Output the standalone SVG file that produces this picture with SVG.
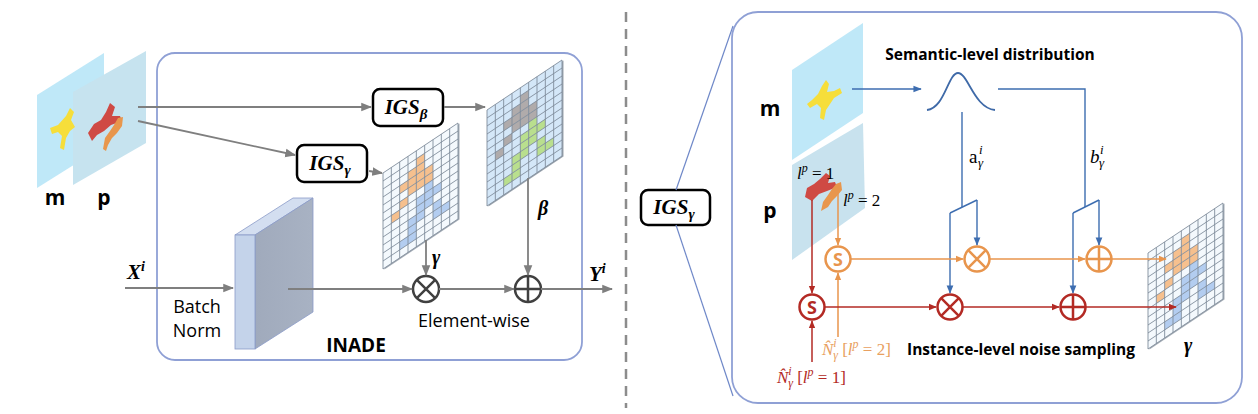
<svg xmlns="http://www.w3.org/2000/svg" xmlns:xlink="http://www.w3.org/1999/xlink" width="1258" height="414" viewBox="0 0 1258 414">
<style>
.sans{font-family:"Open Sans","Noto Sans","Liberation Sans",sans-serif;fill:#000}
.bold{font-weight:bold}
.math{font-family:"Liberation Serif","DejaVu Serif",serif;font-style:italic}
.igs{font-family:"Liberation Serif","DejaVu Serif",serif;font-style:italic;font-weight:bold;font-size:21px;text-anchor:middle}
.box{fill:#fff;stroke:#000;stroke-width:2.5}
.panel{fill:none;stroke:#8fa0d5;stroke-width:1.8}
.gray{stroke:#7f7f7f;stroke-width:1.8;fill:none}
.blue{stroke:#3d6db0;stroke-width:1.4;fill:none}
.org{stroke:#e8954d;stroke-width:1.5;fill:none}
.red{stroke:#b32a24;stroke-width:1.5;fill:none}
.op{fill:#fff;stroke:#404040;stroke-width:2.5}
.gl{fill:none;stroke:#7d8a99;stroke-width:0.75}
.ca{fill:#f6c08e}
.cb{fill:#b3cdf0}
.cg{fill:#b0abab}
.cn{fill:#b9df8e}
</style>
<defs>
<marker id="ag" viewBox="0 0 10 10" refX="9" refY="5" markerWidth="6" markerHeight="6" orient="auto"><path d="M0,1 L10,5 L0,9 Z" fill="#7f7f7f"/></marker>
<marker id="ab" viewBox="0 0 10 10" refX="9" refY="5" markerWidth="6" markerHeight="6" orient="auto"><path d="M0,1 L10,5 L0,9 Z" fill="#3d6db0"/></marker>
<marker id="ao" viewBox="0 0 10 10" refX="9" refY="5" markerWidth="5.5" markerHeight="5.5" orient="auto"><path d="M0,1 L10,5 L0,9 Z" fill="#e8954d"/></marker>
<marker id="ar" viewBox="0 0 10 10" refX="9" refY="5" markerWidth="5.5" markerHeight="5.5" orient="auto"><path d="M0,1 L10,5 L0,9 Z" fill="#b32a24"/></marker>
<linearGradient id="side" x1="0" y1="0" x2="1" y2="0"><stop offset="0" stop-color="#a0aabc"/><stop offset="1" stop-color="#a8b2c3"/></linearGradient>
<path id="glines" class="gl" d="M0,0V96M8.33,0V96M16.67,0V96M25,0V96M33.33,0V96M41.67,0V96M50,0V96M58.33,0V96M66.67,0V96M75,0V96M0,0H75M0,8H75M0,16H75M0,24H75M0,32H75M0,40H75M0,48H75M0,56H75M0,64H75M0,72H75M0,80H75M0,88H75M0,96H75"/>
<g id="patA">
<rect x="33.33" y="8" width="8.33" height="8"/><rect x="33.33" y="16" width="8.33" height="8"/><rect x="25" y="16" width="8.33" height="8"/>
<rect x="16.67" y="24" width="8.33" height="8"/><rect x="25" y="24" width="8.33" height="8"/><rect x="33.33" y="24" width="8.33" height="8"/><rect x="41.67" y="24" width="8.33" height="8"/>
<rect x="25" y="32" width="8.33" height="8"/><rect x="33.33" y="32" width="8.33" height="8"/><rect x="41.67" y="32" width="8.33" height="8"/>
<rect x="16.67" y="40" width="8.33" height="8"/><rect x="8.33" y="48" width="8.33" height="8"/>
</g>
<g id="patB">
<rect x="41.67" y="40" width="8.33" height="8"/>
<rect x="33.33" y="48" width="8.33" height="8"/><rect x="41.67" y="48" width="8.33" height="8"/><rect x="50" y="48" width="8.33" height="8"/>
<rect x="33.33" y="56" width="8.33" height="8"/><rect x="41.67" y="56" width="8.33" height="8"/>
<rect x="25" y="64" width="8.33" height="8"/><rect x="33.33" y="64" width="8.33" height="8"/><rect x="50" y="64" width="8.33" height="8"/>
<rect x="25" y="72" width="8.33" height="8"/><rect x="50" y="72" width="8.33" height="8"/><rect x="58.33" y="72" width="8.33" height="8"/>
<rect x="16.67" y="80" width="8.33" height="8"/><rect x="25" y="80" width="8.33" height="8"/>
</g>
</defs>
<rect width="1258" height="414" fill="#fff"/>

<!-- divider -->
<line x1="626" y1="12" x2="626" y2="408" stroke="#8c8c8c" stroke-width="2.5" stroke-dasharray="10,7"/>

<!-- LEFT PANEL -->
<g id="inade-panel">
<rect class="panel" x="157" y="53" width="425" height="307" rx="18"/>
<text class="sans bold" x="356" y="352" font-size="19" text-anchor="middle">INADE</text>
</g>

<g id="maps-left">
<path d="M37,95 L104,53 L104,146 L37,188 Z" fill="#bfe8f8"/>
<path d="M73,92 L146,51 L146,143 L73,185 Z" fill="#c6e3ef"/>
<path d="M58,125 L66,116 L70,108 L74,112 L71,120 L75,127 L70,131 L66,138 L64,150 L60,148 L62,136 L58,132 L52,134 L50,128 Z" fill="#f6de3a"/>
<path d="M88,133 L94,124 L101,120 L106,112 L110,103 L115,107 L112,116 L120,116 L122,121 L111,125 L104,131 L97,135 L92,141 Z" fill="#cf4a44"/>
<path d="M103,149 L105,138 L110,131 L114,125 L118,118 L123,117 L122,126 L117,133 L112,138 L108,145 L106,151 Z" fill="#e8964c"/>
<text class="sans bold" x="55" y="205" font-size="21" text-anchor="middle">m</text>
<text class="sans bold" x="104" y="205" font-size="21" text-anchor="middle">p</text>
</g>

<g id="igs-beta">
<rect class="box" x="373" y="89" width="70" height="37" rx="7"/>
<text class="igs" x="406" y="114">IGS<tspan font-size="15" dy="5">β</tspan></text>
</g>
<g id="igs-gamma">
<rect class="box" x="297" y="145" width="70" height="37" rx="7"/>
<text class="igs" x="330" y="170">IGS<tspan font-size="15" dy="5">γ</tspan></text>
</g>

<g id="beta-map">
<g transform="translate(487,110) skewY(-33.69)">
<rect x="1.5" y="1.5" width="75" height="96" fill="#9aa3ad"/>
<rect x="0" y="0" width="75" height="96" fill="#d4e7f8"/>
<use xlink:href="#patA" class="cg"/>
<use xlink:href="#patB" class="cn"/>
<use xlink:href="#glines"/>
</g>
<text class="math bold" x="538" y="215" font-size="20">β</text>
</g>

<g id="gamma-map">
<g transform="translate(383,173) skewY(-33.69)">
<rect x="1.5" y="1.5" width="75" height="96" fill="#a4acb5"/>
<rect x="0" y="0" width="75" height="96" fill="#f4f9fd"/>
<use xlink:href="#patA" class="ca"/>
<use xlink:href="#patB" class="cb"/>
<use xlink:href="#glines"/>
</g>
<text class="math bold" x="432" y="264" font-size="20">γ</text>
</g>

<g id="batch-norm">
<path d="M235,235 L255,235 L313,198 L293,198 Z" fill="#d3def0" stroke="#8a9bc8" stroke-width="0.8"/>
<path d="M255,235 L313,198 L313,312 L255,349 Z" fill="url(#side)" stroke="#8a9bc8" stroke-width="0.8"/>
<rect x="235" y="235" width="20" height="114" fill="#c4d3ea" stroke="#8a9bc8" stroke-width="0.8"/>
<text class="sans" x="197" y="313" font-size="18" text-anchor="middle">Batch</text>
<text class="sans" x="197" y="337" font-size="18" text-anchor="middle">Norm</text>
</g>

<g id="mult-left">
<circle class="op" cx="426" cy="289" r="13"/>
<path d="M416.8,279.8 L435.2,298.2 M435.2,279.8 L416.8,298.2" stroke="#404040" stroke-width="2.5"/>
</g>
<g id="add-left">
<circle class="op" cx="528" cy="289" r="13"/>
<path d="M515,289 H541 M528,276 V302" stroke="#404040" stroke-width="2.5"/>
<text class="sans" x="474" y="327" font-size="18" text-anchor="middle">Element-wise</text>
</g>

<g id="labels-left">
<text class="math bold" x="127" y="279" font-size="21">X<tspan font-size="14" dy="-8">i</tspan></text>
<text class="math bold" x="589" y="281" font-size="21">Y<tspan font-size="14" dy="-8">i</tspan></text>
</g>

<g id="connectors-left">
<line class="gray" x1="138" y1="107" x2="371" y2="107" marker-end="url(#ag)"/>
<line class="gray" x1="138" y1="121" x2="295" y2="155" marker-end="url(#ag)"/>
<line class="gray" x1="444" y1="107" x2="485" y2="107" marker-end="url(#ag)"/>
<line class="gray" x1="369" y1="171" x2="382" y2="173" marker-end="url(#ag)"/>
<line class="gray" x1="125" y1="288" x2="233" y2="288" marker-end="url(#ag)"/>
<line class="gray" x1="288" y1="289" x2="412" y2="289" marker-end="url(#ag)"/>
<line class="gray" x1="439" y1="289" x2="514" y2="289" marker-end="url(#ag)"/>
<line class="gray" x1="541" y1="289" x2="612" y2="289" marker-end="url(#ag)"/>
<line class="gray" x1="426" y1="240" x2="426" y2="275" marker-end="url(#ag)"/>
<line class="gray" x1="528" y1="178" x2="528" y2="275" marker-end="url(#ag)"/>
</g>

<!-- RIGHT PANEL -->
<g id="igs-gamma-right">
<rect class="box" x="641" y="190" width="69" height="35" rx="7"/>
<text class="igs" x="674" y="214">IGS<tspan font-size="15" dy="5">γ</tspan></text>
</g>
<g id="zoom-lines">
<line x1="676" y1="190" x2="733" y2="26" stroke="#6f88c8" stroke-width="1.2"/>
<line x1="676" y1="225" x2="733" y2="396" stroke="#6f88c8" stroke-width="1.2"/>
</g>
<g id="detail-panel">
<rect class="panel" x="732" y="12" width="510" height="391" rx="26"/>
</g>

<g id="maps-right">
<path d="M792,70 L863,23 L863,113 L792,160 Z" fill="#bfe8f8"/>
<path d="M792,165 L863,123 L865,208 L792,260 Z" fill="#c8e2ee"/>
<path d="M812,100 L818,94 L822,86 L826,80 L829,84 L827,92 L834,91 L840,88 L842,93 L834,98 L830,104 L826,110 L824,120 L820,118 L821,108 L817,104 L810,108 L807,104 Z" fill="#f6de3a"/>
<path d="M805,197 L807,188 L814,184 L820,179 L826,173 L830,176 L828,183 L835,182 L837,187 L827,191 L819,194 L812,201 Z" fill="#cf4a44"/>
<path d="M821,211 L823,202 L828,195 L832,189 L836,184 L841,182 L842,190 L837,196 L832,201 L828,207 Z" fill="#e8964c"/>
<text class="sans bold" x="770" y="116" font-size="21" text-anchor="middle">m</text>
<text class="sans bold" x="770" y="218" font-size="21" text-anchor="middle">p</text>
<text class="math" x="797" y="179" font-size="17">l<tspan font-size="12" dy="-7">p</tspan><tspan font-style="normal" dy="7"> = 1</tspan></text>
<text class="math" x="843" y="206" font-size="17">l<tspan font-size="12" dy="-7">p</tspan><tspan font-style="normal" dy="7"> = 2</tspan></text>
</g>

<g id="semantic">
<text class="sans bold" x="990" y="60" font-size="15.5" text-anchor="middle">Semantic-level distribution</text>
<path d="M927,110 C945,108 948,73 958,73 C968,73 974,108 995,110" stroke="#3f6aa8" stroke-width="1.8" fill="none"/>
</g>

<g id="labels-ab">
<text x="969" y="163" font-family="Liberation Serif, serif" font-size="19">a</text>
<text class="math" x="979" y="154" font-size="13">i</text>
<text class="math" x="978" y="167" font-size="13">γ</text>
<text class="math" x="1090" y="163" font-size="19">b</text>
<text class="math" x="1100" y="154" font-size="13">i</text>
<text class="math" x="1099" y="167" font-size="13">γ</text>
</g>

<g id="s-orange">
<circle cx="838" cy="259" r="12.5" fill="#fff" stroke="#e8954d" stroke-width="2.5"/>
<text class="sans bold" x="838" y="265.5" font-size="18" text-anchor="middle" style="fill:#e8954d">S</text>
</g>
<g id="s-red">
<circle cx="812" cy="307" r="12.5" fill="#fff" stroke="#b32a24" stroke-width="2.5"/>
<text class="sans bold" x="812" y="313.5" font-size="18" text-anchor="middle" style="fill:#b32a24">S</text>
</g>
<g id="mult-orange">
<circle cx="977" cy="259" r="12.5" fill="#fff" stroke="#e8954d" stroke-width="2.5"/>
<path d="M968.2,250.2 L985.8,267.8 M985.8,250.2 L968.2,267.8" stroke="#e8954d" stroke-width="2.5"/>
</g>
<g id="mult-red">
<circle cx="950" cy="307" r="12.5" fill="#fff" stroke="#b32a24" stroke-width="2.5"/>
<path d="M941.2,298.2 L958.8,315.8 M958.8,298.2 L941.2,315.8" stroke="#b32a24" stroke-width="2.5"/>
</g>
<g id="add-orange">
<circle cx="1099" cy="259" r="12.5" fill="#fff" stroke="#e8954d" stroke-width="2.5"/>
<path d="M1086.5,259 H1111.5 M1099,246.5 V271.5" stroke="#e8954d" stroke-width="2.5"/>
</g>
<g id="add-red">
<circle cx="1073" cy="307" r="12.5" fill="#fff" stroke="#b32a24" stroke-width="2.5"/>
<path d="M1060.5,307 H1085.5 M1073,294.5 V319.5" stroke="#b32a24" stroke-width="2.5"/>
</g>

<g id="gamma-out">
<g transform="translate(1148,253) skewY(-33.69)">
<rect x="1.5" y="1.5" width="75" height="96" fill="#a4acb5"/>
<rect x="0" y="0" width="75" height="96" fill="#f4f9fd"/>
<use xlink:href="#patA" class="ca"/>
<use xlink:href="#patB" class="cb"/>
<use xlink:href="#glines"/>
</g>
<text class="math bold" x="1184" y="352" font-size="20">γ</text>
</g>

<g id="noise-labels">
<text class="math" x="822" y="355" font-size="17" style="fill:#e8a060">N̂<tspan font-size="12" dy="-8">i</tspan><tspan font-size="12" dx="-3.5" dy="12">γ</tspan><tspan font-style="normal" dy="-4"> [</tspan>l<tspan font-size="12" dy="-7">p</tspan><tspan font-style="normal" dy="7"> = 2]</tspan></text>
<text class="math" x="777" y="383" font-size="17" style="fill:#b32a24">N̂<tspan font-size="12" dy="-8">i</tspan><tspan font-size="12" dx="-3.5" dy="12">γ</tspan><tspan font-style="normal" dy="-4"> [</tspan>l<tspan font-size="12" dy="-7">p</tspan><tspan font-style="normal" dy="7"> = 1]</tspan></text>
<text class="sans bold" x="1021" y="355" font-size="15.5" text-anchor="middle">Instance-level noise sampling</text>
</g>

<g id="connectors-right">
<line class="blue" x1="852" y1="89" x2="921" y2="89" marker-end="url(#ab)"/>
<polyline class="blue" points="998,89 1085,89 1085,207"/>
<polyline class="blue" points="962,112 962,207"/>
<line class="blue" x1="950" y1="213" x2="977" y2="200"/>
<line class="blue" x1="1073" y1="213" x2="1099" y2="200"/>
<line class="blue" x1="977" y1="200" x2="977" y2="245" marker-end="url(#ab)"/>
<line class="blue" x1="950" y1="213" x2="950" y2="293" marker-end="url(#ab)"/>
<line class="blue" x1="1099" y1="200" x2="1099" y2="245" marker-end="url(#ab)"/>
<line class="blue" x1="1073" y1="213" x2="1073" y2="293" marker-end="url(#ab)"/>

<line class="org" x1="838" y1="185" x2="838" y2="245" marker-end="url(#ao)"/>
<line class="org" x1="838" y1="337" x2="838" y2="273" marker-end="url(#ao)"/>
<line class="org" x1="851" y1="259" x2="963" y2="259" marker-end="url(#ao)"/>
<line class="org" x1="990" y1="259" x2="1085" y2="259" marker-end="url(#ao)"/>
<line class="org" x1="1112" y1="259" x2="1166" y2="259" marker-end="url(#ao)"/>

<line class="red" x1="812" y1="200" x2="812" y2="293" marker-end="url(#ar)"/>
<line class="red" x1="812" y1="362" x2="812" y2="321" marker-end="url(#ar)"/>
<line class="red" x1="825" y1="307" x2="936" y2="307" marker-end="url(#ar)"/>
<line class="red" x1="963" y1="307" x2="1059" y2="307" marker-end="url(#ar)"/>
<line class="red" x1="1086" y1="307" x2="1176" y2="307" marker-end="url(#ar)"/>
</g>
</svg>
